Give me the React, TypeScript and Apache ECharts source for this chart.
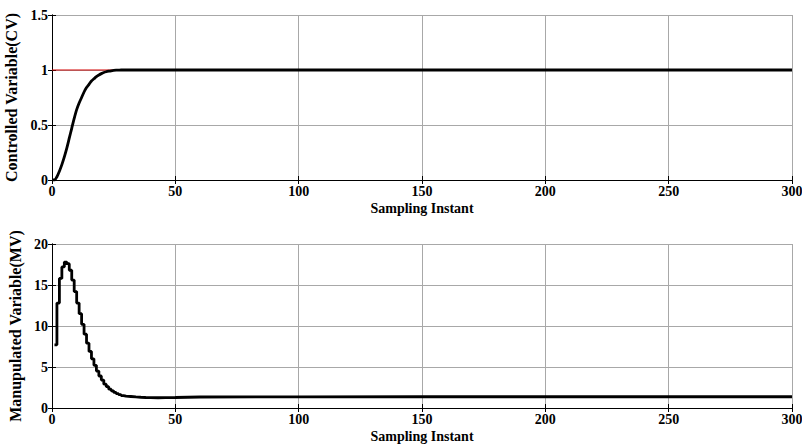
import React, { useEffect, useRef } from "react";
import * as echarts from "echarts";

const xTicks = [0, 50, 100, 150, 200, 250, 300];
const cvInstants = [0, 1, 2, 3, 4, 5, 6, 7, 8, 9, 10, 11, 12, 13, 14, 15, 16, 17, 18, 19, 20, 21, 22, 23, 24, 25, 26, 27, 28, 30, 50, 100, 150, 200, 250, 300];
const cvValues = [0, 0, 0.03, 0.08, 0.14, 0.21, 0.29, 0.38, 0.47, 0.56, 0.64, 0.7, 0.75, 0.8, 0.84, 0.87, 0.9, 0.92, 0.94, 0.955, 0.967, 0.977, 0.984, 0.989, 0.993, 0.996, 0.998, 0.999, 1, 1, 1, 1, 1, 1, 1, 1];
const setpointInstants = [0, 300];
const setpointValues = [1, 1];
const mvInstants = [1, 2, 3, 4, 5, 6, 7, 8, 9, 10, 11, 12, 13, 14, 15, 16, 17, 18, 19, 20, 21, 22, 23, 24, 25, 26, 27, 28, 29, 30, 32, 34, 36, 38, 40, 43, 46, 50, 55, 60, 100, 150, 200, 250, 300];
const mvValues = [7.7, 12.8, 15.8, 17.2, 17.8, 17.6, 16.8, 15.6, 14.2, 12.8, 11.5, 10.2, 9.0, 7.9, 6.9, 6.0, 5.2, 4.5, 3.9, 3.4, 2.9, 2.6, 2.3, 2.1, 1.9, 1.75, 1.62, 1.52, 1.45, 1.4, 1.35, 1.31, 1.28, 1.26, 1.25, 1.26, 1.28, 1.31, 1.34, 1.36, 1.37, 1.37, 1.37, 1.37, 1.37];

const FONT = "Times New Roman, Liberation Serif, serif";

export default function App() {
  const ref = useRef<HTMLDivElement>(null);
  useEffect(() => {
    if (!ref.current) return;
    const chart = echarts.init(ref.current, null, { renderer: "svg" });
    const label = { color: "#000", fontFamily: FONT, fontWeight: "bold", fontSize: 14 };
    const nameStyle = { color: "#000", fontFamily: FONT, fontWeight: "bold", fontSize: 14 };
    const yNameStyle = { color: "#000", fontFamily: FONT, fontWeight: "bold", fontSize: 16 };
    const splitLine = { show: true, lineStyle: { color: "#a8a8a8", width: 1 } };
    const mkX = (gi: number, showLabel: boolean, pos: string) => ({
      type: "value",
      gridIndex: gi,
      position: pos,
      min: 0,
      max: 300,
      interval: 50,
      axisLine: { show: true, lineStyle: { color: "#000", width: 1 } },
      axisTick: { show: true, inside: true, length: 4, lineStyle: { color: "#000" } },
      axisLabel: showLabel ? { ...label, margin: 4 } : { show: false },
      splitLine: showLabel ? splitLine : { show: false },
      name: showLabel ? "Sampling Instant" : "",
      nameLocation: "middle",
      nameGap: 21,
      nameTextStyle: { ...nameStyle },
    });
    const mkY = (gi: number, max: number, interval: number, showLabel: boolean, pos: string, name: string) => ({
      type: "value",
      gridIndex: gi,
      position: pos,
      min: 0,
      max,
      interval,
      axisLine: { show: true, lineStyle: { color: "#000", width: 1 } },
      axisTick: { show: true, inside: true, length: 4, lineStyle: { color: "#000" } },
      axisLabel: showLabel ? { ...label, margin: 4 } : { show: false },
      splitLine: showLabel ? splitLine : { show: false },
      name: showLabel ? name : "",
      nameLocation: "middle",
      nameGap: 26,
      nameTextStyle: { ...yNameStyle },
    });
    const zip = (xs: number[], ys: number[]) => xs.map((x, i) => [x, ys[i]]);
    chart.setOption({
      animation: false,
      backgroundColor: "#fff",
      grid: [
        { left: 52, right: 10, top: 15, height: 165, outerBoundsMode: "none", containLabel: false },
        { left: 52, right: 10, top: 244, height: 164, outerBoundsMode: "none", containLabel: false },
      ],
      xAxis: [mkX(0, true, "bottom"), mkX(0, false, "top"), mkX(1, true, "bottom"), mkX(1, false, "top")],
      yAxis: [
        mkY(0, 1.5, 0.5, true, "left", "Controlled Variable(CV)"),
        mkY(0, 1.5, 0.5, false, "right", ""),
        mkY(1, 20, 5, true, "left", "Manupulated Variable(MV)"),
        mkY(1, 20, 5, false, "right", ""),
      ],
      series: [
        {
          type: "line",
          xAxisIndex: 0,
          yAxisIndex: 0,
          data: zip(setpointInstants, setpointValues),
          symbol: "none",
          lineStyle: { color: "#d00000", width: 1 },
        },
        {
          type: "line",
          xAxisIndex: 0,
          yAxisIndex: 0,
          data: zip(cvInstants, cvValues),
          symbol: "none",
          smooth: 0.3,
          lineStyle: { color: "#000", width: 2.8 },
        },
        {
          type: "line",
          xAxisIndex: 2,
          yAxisIndex: 2,
          data: zip(mvInstants, mvValues),
          symbol: "none",
          step: "end",
          lineStyle: { color: "#000", width: 2.8 },
        },
      ],
    });
    return () => chart.dispose();
  }, []);
  return <div ref={ref} style={{ width: 802, height: 446, position: "absolute", left: 0, top: 0 }} />;
}
